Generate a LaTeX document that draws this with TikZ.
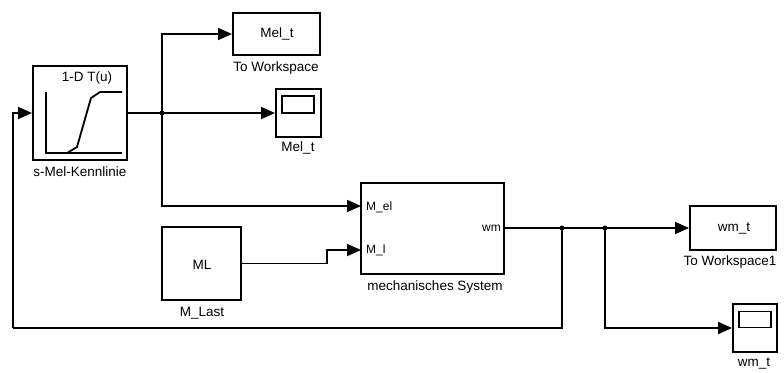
\documentclass[tikz,border=0pt]{standalone}
\usepackage{fontspec}
\setmainfont{Liberation Sans}
\usetikzlibrary{arrows.meta,calc}
\begin{document}
\begin{tikzpicture}[x=1pt,y=-1pt,
  blk/.style={draw,line width=2pt,rectangle,inner sep=0pt},
  lbl/.style={font=\fontsize{13.5}{15}\selectfont,inner sep=0pt},
  plbl/.style={font=\fontsize{12}{14}\selectfont,inner sep=0pt},
  wire/.style={line width=1.8pt},
  arr/.style={wire,-{Triangle[length=14pt,width=12pt]}},
  dot/.style={circle,fill,inner sep=0pt,minimum size=5pt}]
\useasboundingbox (0,0) rectangle (784,372);
% blocks
\node[blk,minimum width=94pt,minimum height=94pt] (lut) at (80,113) {};
\node[blk,minimum width=87pt,minimum height=42pt] (ws1) at (276.5,34) {};
\node[lbl] (ws1t) at (277,34) {Mel\_t};
\node[blk,minimum width=45pt,minimum height=48pt] (sc1) at (298.5,113) {};
\node[draw,line width=1.5pt,minimum width=32pt,minimum height=17pt,inner sep=0pt] (sc1s) at (298,104.5) {};
\node[blk,minimum width=143pt,minimum height=91pt] (mech) at (432.5,228) {};
\node[blk,minimum width=79pt,minimum height=73pt] (ml) at (201.5,263.5) {};
\node[lbl] (mlt) at (202,265) {ML};
\node[blk,minimum width=86pt,minimum height=44pt] (ws2) at (733,228) {};
\node[lbl] (ws2t) at (734,228) {wm\_t};
\node[blk,minimum width=44pt,minimum height=48pt] (sc2) at (755,328) {};
\node[draw,line width=1.5pt,minimum width=32pt,minimum height=16pt,inner sep=0pt] (sc2s) at (755,319.5) {};
% lookup contents
\node[lbl] (lutt) at (87,78) {1-D T(u)};
\draw[line width=1.8pt] (46,92) -- (46,153) -- (122,153);
\draw[line width=1.8pt] (67,153) -- (77,147) -- (91,98) -- (100,92) -- (122,92);
% labels
\node[lbl] (lutl) at (80,172) {s-Mel-Kennlinie};
\node[lbl] (ws1l) at (276,68) {To Workspace};
\node[lbl] (sc1l) at (298,148) {Mel\_t};
\node[lbl] (mechl) at (435,287) {mechanisches System};
\node[lbl] (mll) at (202,313) {M\_Last};
\node[lbl] (ws2l) at (730,262) {To Workspace1};
\node[lbl] (sc2l) at (754,363) {wm\_t};
\node[plbl,anchor=west] (pelt) at (366,207) {M\_el};
\node[plbl,anchor=west] (pmlt) at (366,250) {M\_l};
\node[plbl,anchor=east] (wmt) at (501,228) {wm};
% coordinates
\coordinate (j1) at (162,113);
\coordinate (j2) at (562,228);
\coordinate (j3) at (605,228);
\coordinate (pel) at (361,206);
\coordinate (pml) at (361,250);
\coordinate (bend) at (327,263.5);
\coordinate (fb) at (13,328);
% wires
\draw[wire] (lut.east) -- (j1);
\draw[arr] (j1) |- (ws1.west);
\draw[arr] (j1) -- (sc1.west);
\draw[arr] (j1) |- (pel);
\draw[wire] (ml.east) -- (bend);
\draw[arr] (bend) |- (pml);
\draw[wire] (mech.east) -- (j2) -- (j3);
\draw[arr] (j3) -- (ws2.west);
\draw[wire] (j2) |- (fb);
\draw[arr] (fb) |- (lut.west);
\draw[arr] (j3) |- (sc2.west);
\node[dot] at (j1) {};
\node[dot] at (j2) {};
\node[dot] at (j3) {};
\end{tikzpicture}
\end{document}
